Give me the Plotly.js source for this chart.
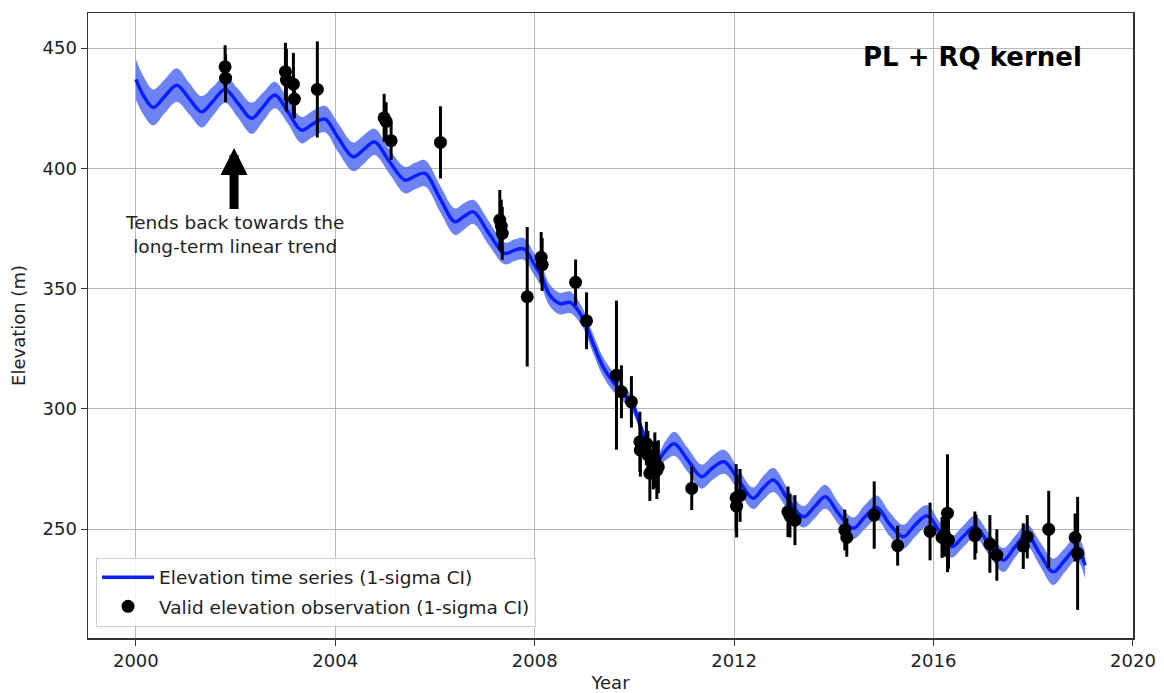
<!DOCTYPE html>
<html>
<head>
<meta charset="utf-8">
<script src="https://cdn.plot.ly/plotly-3.0.1.min.js"></script>
<style>html,body{margin:0;padding:0;background:#fff;}#chart{width:1164px;height:693px;}</style>
</head>
<body>
<div id="chart"></div>
<script>
// GP mean curve
const curveYear = [2000.00,2000.16,2000.35,2000.58,2000.82,2001.07,2001.32,2001.55,2001.79,2002.05,2002.32,2002.55,2002.79,2003.05,2003.32,2003.55,2003.79,2004.05,2004.36,2004.58,2004.79,2005.08,2005.40,2005.60,2005.80,2006.10,2006.40,2006.58,2006.77,2007.08,2007.40,2007.60,2007.78,2007.98,2008.14,2008.30,2008.50,2008.72,2008.95,2009.17,2009.37,2009.57,2009.78,2009.98,2010.18,2010.45,2010.62,2010.80,2011.06,2011.35,2011.57,2011.80,2012.10,2012.38,2012.58,2012.79,2013.09,2013.39,2013.62,2013.83,2014.11,2014.39,2014.62,2014.86,2015.12,2015.39,2015.62,2015.87,2016.12,2016.36,2016.60,2016.83,2017.12,2017.40,2017.63,2017.87,2018.14,2018.40,2018.63,2018.87,2019.04];
const curveElev = [437.0,430.0,425.3,430.0,434.6,429.0,423.5,428.0,432.8,427.0,420.8,425.5,430.5,423.5,415.9,418.5,420.5,413.0,404.8,408.0,411.0,403.0,395.1,396.8,397.9,387.5,377.8,380.0,381.9,373.0,364.6,366.0,366.5,360.5,355.0,347.3,343.8,344.2,338.3,327.2,317.5,311.3,306.4,300.9,289.5,278.5,282.5,285.5,279.0,271.8,275.5,278.0,270.0,262.8,267.0,270.4,262.0,255.1,259.5,263.4,256.0,250.3,255.0,259.0,252.0,246.8,251.5,255.5,249.0,242.6,247.0,251.0,243.5,237.1,242.5,247.5,239.5,232.2,237.0,242.0,235.0];
const curveSigma = [8.5,8.0,7.5,7.0,7.0,6.5,6.5,6.0,5.5,6.0,6.5,6.0,5.5,5.0,5.5,5.5,5.5,6.0,6.0,6.0,5.5,5.0,5.5,5.5,5.5,5.5,5.5,5.5,5.0,5.0,4.5,4.5,4.5,4.5,4.5,4.5,4.5,4.5,4.0,4.0,4.0,4.0,3.5,3.0,2.5,2.5,4.0,5.0,5.0,5.0,5.0,5.0,4.5,4.5,5.0,5.0,4.5,4.5,5.0,5.0,4.5,4.5,5.0,5.0,5.0,5.0,5.0,4.5,4.0,4.5,4.5,4.5,4.5,5.0,4.5,4.5,5.0,5.5,5.0,5.0,5.5];

// Valid observations
const obsYear = [2001.79,2001.80,2003.00,2003.02,2003.16,2003.18,2003.64,2004.98,2005.02,2005.12,2006.11,2007.30,2007.33,2007.35,2007.85,2008.13,2008.15,2008.82,2009.04,2009.64,2009.74,2009.94,2010.11,2010.12,2010.24,2010.27,2010.31,2010.38,2010.41,2010.45,2010.48,2011.15,2012.04,2012.05,2012.12,2013.08,2013.12,2013.22,2014.22,2014.26,2014.81,2015.28,2015.93,2016.17,2016.22,2016.28,2016.30,2016.83,2016.85,2017.13,2017.27,2017.80,2017.88,2018.31,2018.84,2018.89];
const obsElev = [442.2,437.5,440.2,436.7,435.0,428.8,432.8,421.0,419.5,411.5,410.8,378.5,376.0,373.0,346.6,363.0,360.0,352.6,336.6,314.0,307.1,302.9,286.3,282.8,285.6,280.8,273.2,276.5,278.7,274.5,275.9,266.9,263.0,259.5,264.0,257.2,255.5,253.7,249.6,246.5,255.8,243.1,249.0,246.5,247.5,256.6,245.5,247.3,248.0,243.8,239.2,242.9,246.8,249.9,246.5,239.9];
const obsErr = [9,10,12,13,13,8,20,10,8,8,15,12.5,11,11,29,10.5,11,9.5,11.8,31,11,10.7,12.5,11,9,10,11.5,10,11.5,12,11,9,14,13,11,10.5,9,10.4,8.5,8,14,8.3,12,8.5,9,24.5,12,10,8,12,10.7,9.5,9,16,10,23.5];

const xTicks = [2000,2004,2008,2012,2016,2020];
const yTicks = [250,300,350,400,450];

const upper = curveElev.map((v,i)=>v+curveSigma[i]);
const lower = curveElev.map((v,i)=>v-curveSigma[i]);

const FONT = 'DejaVu Sans, Liberation Sans, sans-serif';

const traces = [
  {x: curveYear, y: lower, mode:'lines', line:{width:0, shape:'spline', smoothing:1}, showlegend:false, hoverinfo:'skip'},
  {x: curveYear, y: upper, mode:'lines', line:{width:0, shape:'spline', smoothing:1}, fill:'tonexty', fillcolor:'rgba(60,90,240,0.75)', showlegend:false, hoverinfo:'skip'},
  {x: curveYear, y: curveElev, mode:'lines', line:{color:'#0a1eff', width:3.5, shape:'spline', smoothing:1}, name:'Elevation time series (1-sigma CI)', legendgroup:'a'},
  {x: obsYear, y: obsElev, mode:'markers', marker:{color:'#000', size:13}, error_y:{type:'data', array:obsErr, visible:true, color:'#000', thickness:3, width:0}, name:'Valid elevation observation (1-sigma CI)', legendgroup:'b'}
];

const layout = {
  width:1164, height:693,
  margin:{l:88, r:31, t:13, b:55},
  paper_bgcolor:'#fff', plot_bgcolor:'#fff',
  font:{family:FONT, size:18, color:'#222'},
  xaxis:{range:[1999.04,2020.001], tickvals:xTicks, ticktext:xTicks.map(String), showgrid:true, gridcolor:'#b8b8b8', gridwidth:1,
         showline:true, mirror:true, linecolor:'#333', linewidth:1.5, ticks:'outside', ticklen:6, tickcolor:'#333', zeroline:false,
         tickfont:{size:18}, title:{text:'Year', font:{size:18}, standoff:8}},
  yaxis:{range:[204.7,464.6], tickvals:yTicks, ticktext:yTicks.map(String), showgrid:true, gridcolor:'#b8b8b8', gridwidth:1,
         showline:true, mirror:true, linecolor:'#333', linewidth:1.5, ticks:'outside', ticklen:6, tickcolor:'#333', zeroline:false,
         tickfont:{size:18}, title:{text:'Elevation (m)', font:{size:18}, standoff:12}},
  legend:{x:0.0077, y:0.018, xanchor:'left', yanchor:'bottom', bgcolor:'rgba(255,255,255,0.85)', bordercolor:'#d0d0d0', borderwidth:1,
          font:{size:18.5, color:'#222'}, tracegroupgap:2, itemwidth:52},
  showlegend:true,
  annotations:[
    {xref:'paper', yref:'paper', x:0.846, y:0.9296, xanchor:'center', yanchor:'middle', text:'<b>PL + RQ kernel</b>', showarrow:false, font:{size:26, color:'#000', family:FONT}},
    {xref:'x', yref:'y', x:2001.97, y:372.7, xanchor:'center', yanchor:'middle', text:'Tends back towards the<br>long-term linear trend', showarrow:false, font:{size:18.5, color:'#222', family:FONT}},
    {xref:'x', yref:'y', x:2001.97, y:408.5, axref:'x', ayref:'y', ax:2001.97, ay:382.5, text:'', showarrow:true, arrowhead:2, arrowwidth:9, arrowsize:0.6, arrowcolor:'#000'}
  ]
};

Plotly.newPlot('chart', traces, layout, {displayModeBar:false, staticPlot:true});
</script>
</body>
</html>
